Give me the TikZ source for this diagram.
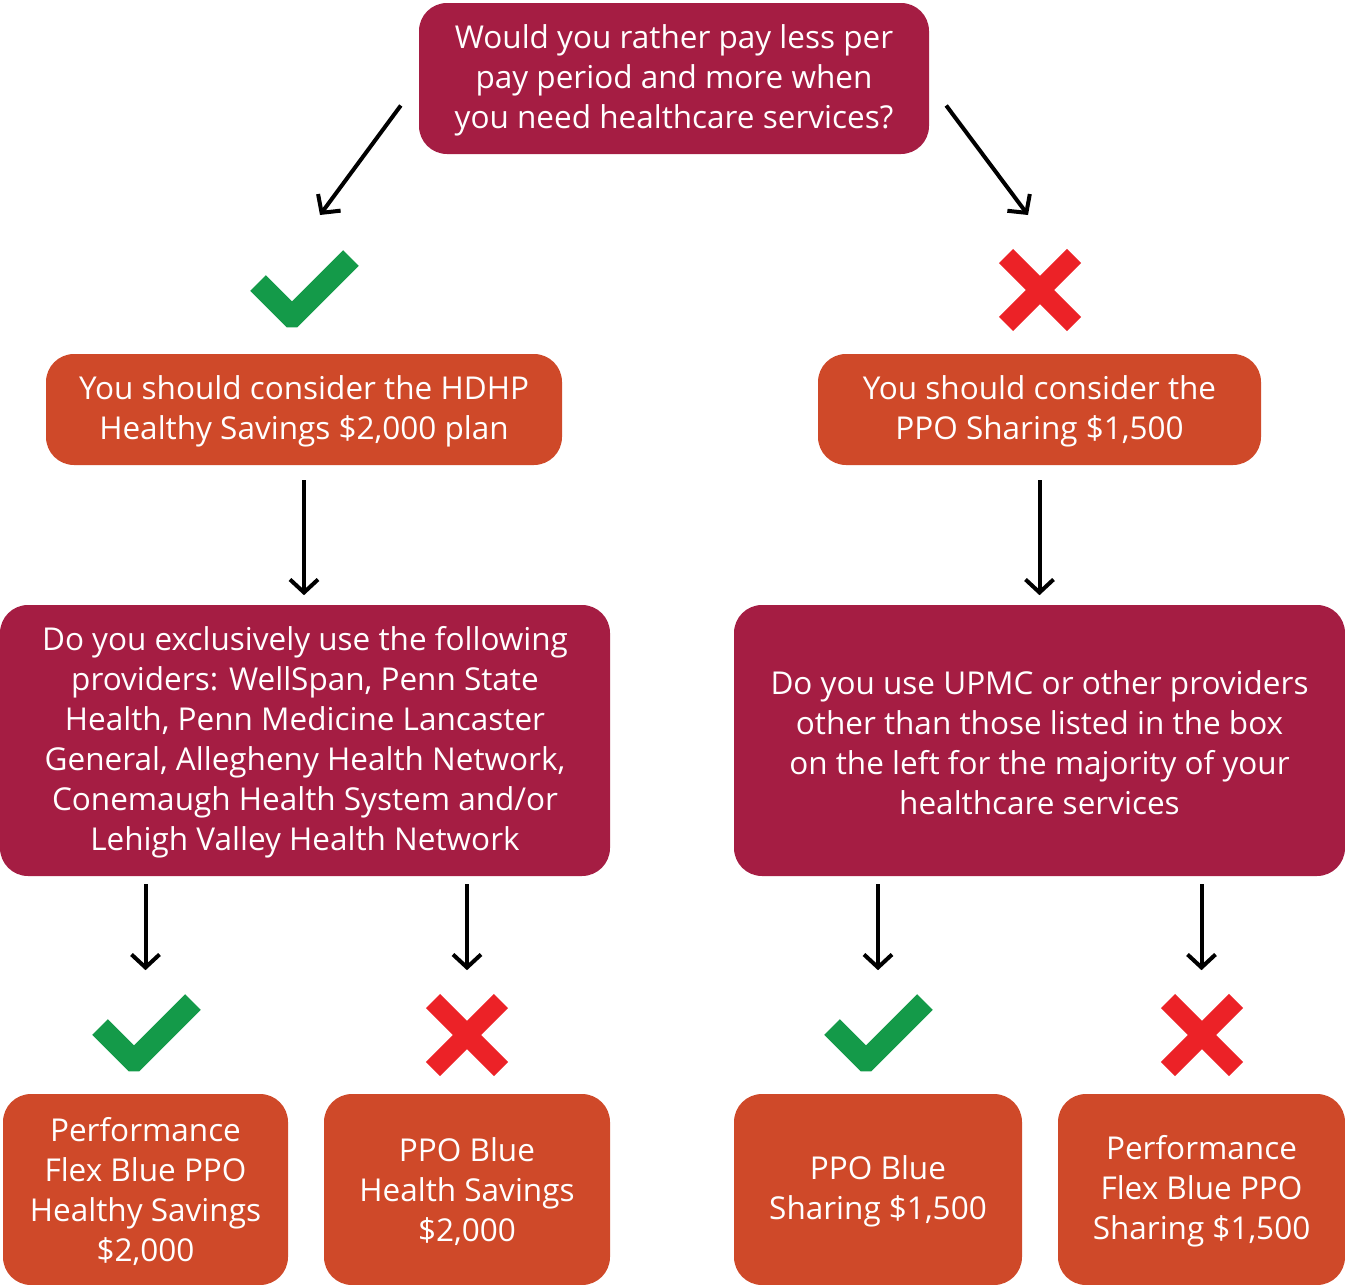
\documentclass[tikz,border=0pt]{standalone}
\usepackage{fontspec}
\setmainfont{Open Sans}
\usepackage{tikz}
\usetikzlibrary{arrows.meta,positioning}
\usepackage{xcolor}

\definecolor{plum}{HTML}{A51D43}
\definecolor{rust}{HTML}{CF4929}
\definecolor{yesgreen}{HTML}{149A49}
\definecolor{nored}{HTML}{EC2227}

\begin{document}
\begin{tikzpicture}[
	  x=1pt,y=-1pt,
	  every node/.style={align=center,text=white,draw=none,inner sep=0pt,font=\fontsize{31.5}{40}\selectfont},
	  question/.style={rounded corners=28pt,fill=plum},
	  answer/.style={rounded corners=28pt,fill=rust},
	  to/.style={-{Straight Barb[length=13pt,width=28pt]},line width=4pt,draw=black},
	  checkmark/.pic={\draw[yesgreen,line width=22pt,rounded corners=1pt] (-46,0) -- (-12,34) -- (47,-25);},
	  crossmark/.pic={\draw[nored,line width=20pt] (-34,-34) -- (34,34) (-34,34) -- (34,-34);}]

	  \useasboundingbox (0,0) rectangle (1345,1285);

	  % Questions
	  \node[question,minimum width=510pt,minimum height=151pt] (rather) at (674,78.5)
	    {\strut Would you rather pay less per\\pay period and more when\\you need healthcare services?};
	  \node[question,minimum width=610pt,minimum height=271pt] (exclusive) at (305,740.5)
	    {\strut Do you exclusively use the following\\providers: WellSpan, Penn State\\Health, Penn Medicine Lancaster\\General, Allegheny Health Network,\\Conemaugh Health System and/or\\Lehigh Valley Health Network};
	  \node[question,minimum width=611pt,minimum height=271pt] (upmc) at (1039.5,740.5)
	    {\strut Do you use UPMC or other providers\\other than those listed in the box\\on the left for the majority of your\\healthcare services};

	  % Plans
	  \node[answer,minimum width=516pt,minimum height=111pt] (hdhp) at (304,409.5)
	    {\strut You should consider the HDHP\\Healthy Savings \$2,000 plan};
	  \node[answer,minimum width=443pt,minimum height=111pt] (ppo) at (1039.5,409.5)
	    {\strut You should consider the\\PPO Sharing \$1,500};
	  \node[answer,minimum width=285pt,minimum height=191pt] (flexhs) at (145.5,1189.5)
	    {\strut Performance\\Flex Blue PPO\\Healthy Savings\\\$2,000};
	  \node[answer,minimum width=286pt,minimum height=191pt] (bluehs) at (467,1189.5)
	    {\strut PPO Blue\\Health Savings\\\$2,000};
	  \node[answer,minimum width=288pt,minimum height=191pt] (bluesh) at (878,1189.5)
	    {\strut PPO Blue\\Sharing \$1,500};
	  \node[answer,minimum width=287pt,minimum height=191pt] (flexsh) at (1201.5,1189.5)
	    {\strut Performance\\Flex Blue PPO\\Sharing \$1,500};

	  % Yes / no marks
	  \pic at (304,283) {checkmark};
	  \pic at (1040,290) {crossmark};
	  \pic at (146,1027) {checkmark};
	  \pic at (467,1035) {crossmark};
	  \pic at (878,1027) {checkmark};
	  \pic at (1202,1035) {crossmark};

	  % Arrows
	  \coordinate (yestip) at (320,215);
	  \coordinate (notip) at (1028,215);
	  \draw[to] (rather.west) ++(-18,27) -- (yestip);
	  \draw[to] (rather.east) ++(17,27) -- (notip);
	  \draw[to] (hdhp.south) ++(0,15) -- ++(0,115);
	  \draw[to] (ppo.south) ++(0,15) -- ++(0,115);
	  \draw[to] (exclusive.south -| flexhs) ++(0,8) -- ++(0,86);
	  \draw[to] (exclusive.south -| bluehs) ++(0,8) -- ++(0,86);
	  \draw[to] (upmc.south -| bluesh) ++(0,8) -- ++(0,86);
	  \draw[to] (upmc.south -| flexsh) ++(0,8) -- ++(0,86);
\end{tikzpicture}
\end{document}
